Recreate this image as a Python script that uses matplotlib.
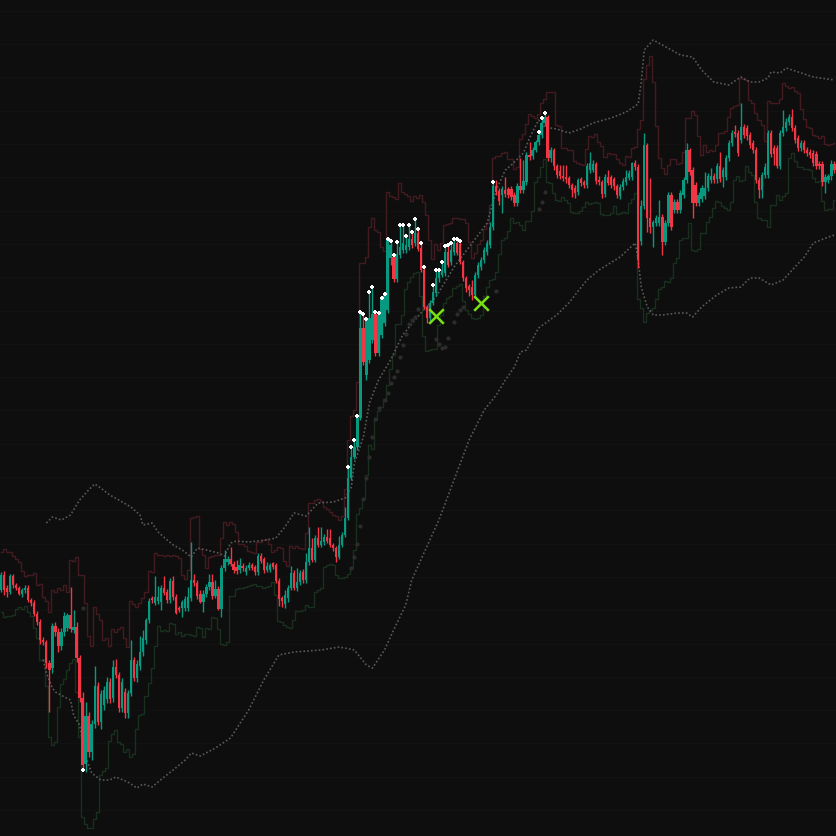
import numpy as np
import pandas as pd
import matplotlib
matplotlib.use('Agg')
import matplotlib.pyplot as plt

# OHLC candles (arbitrary price units)
opens = [
    246, 261, 248, 244, 260, 251, 248, 242, 246, 248,
    236, 233, 222, 214, 196, 194, 173, 168, 210, 204,
    190, 204, 208, 221, 206, 209, 178, 138, 72, 120,
    84, 112, 150, 114, 131, 137, 154, 138, 169, 161,
    128, 144, 123, 143, 176, 158, 170, 184, 196, 216,
    238, 233, 235, 234, 248, 244, 236, 255, 239, 228,
    228, 228, 228, 238, 256, 253, 242, 234, 242, 249,
    254, 240, 247, 227, 268, 274, 277, 272, 269, 266,
    270, 264, 268, 271, 269, 264, 280, 277, 266, 266,
    273, 271, 255, 238, 232, 238, 248, 263, 248, 254,
    264, 256, 274, 288, 276, 298, 291, 294, 299, 298,
    291, 288, 279, 291, 301, 318, 358, 379, 389, 418,
    508, 461, 476, 496, 522, 483, 501, 513, 526, 578,
    579, 557, 581, 586, 586, 589, 597, 593, 603, 588,
    566, 529, 518, 533, 543, 558, 561, 563, 584, 574,
    584, 593, 592, 574, 558, 550, 549, 541, 561, 569,
    576, 584, 591, 609, 650, 645, 641, 646, 647, 647,
    641, 633, 650, 646, 654, 681, 680, 686, 694, 701,
    713, 719, 678, 686, 670, 665, 660, 659, 658, 651,
    648, 644, 657, 654, 651, 666, 666, 672, 656, 654,
    642, 659, 659, 657, 650, 640, 649, 654, 658, 659,
    673, 669, 595, 630, 691, 618, 609, 613, 613, 619,
    594, 613, 641, 626, 634, 626, 641, 656, 686, 666,
    651, 633, 637, 640, 648, 656, 660, 657, 670, 659,
    659, 678, 693, 704, 703, 696, 709, 708, 701, 693,
    686, 656, 646, 661, 661, 703, 688, 688, 670, 703,
    708, 714, 719, 708, 698, 688, 693, 686, 684, 683,
    682, 672, 672, 654, 656, 660, 672,
]
highs = [
    264, 265, 251, 262, 262, 253, 250, 248, 251, 251,
    238, 236, 225, 217, 199, 196, 176, 213, 214, 208,
    208, 224, 223, 249, 226, 214, 181, 144, 134, 124,
    116, 170, 154, 146, 150, 159, 158, 176, 177, 164,
    158, 148, 146, 196, 179, 176, 200, 206, 218, 238,
    240, 260, 250, 251, 260, 247, 258, 260, 242, 230,
    236, 240, 249, 294, 262, 256, 246, 246, 252, 262,
    262, 256, 250, 271, 286, 280, 289, 275, 276, 278,
    273, 271, 274, 273, 271, 283, 283, 279, 274, 273,
    274, 273, 258, 240, 246, 251, 270, 266, 268, 266,
    267, 283, 309, 298, 301, 309, 309, 302, 307, 307,
    293, 290, 300, 304, 329, 369, 389, 396, 420, 524,
    522, 517, 544, 549, 524, 523, 538, 542, 597, 595,
    581, 594, 611, 611, 600, 611, 604, 617, 607, 593,
    569, 531, 536, 551, 566, 566, 574, 590, 591, 593,
    597, 597, 595, 576, 560, 552, 556, 564, 574, 579,
    589, 596, 614, 654, 656, 648, 650, 659, 649, 650,
    644, 653, 678, 676, 684, 694, 689, 696, 704, 718,
    723, 721, 689, 688, 672, 671, 671, 671, 660, 653,
    651, 658, 659, 656, 673, 684, 676, 674, 660, 656,
    662, 666, 661, 659, 652, 652, 658, 666, 666, 674,
    676, 672, 636, 703, 693, 658, 616, 621, 636, 622,
    616, 644, 644, 637, 637, 646, 659, 693, 688, 669,
    654, 644, 651, 664, 663, 668, 663, 673, 684, 669,
    681, 696, 706, 711, 706, 733, 712, 711, 704, 696,
    689, 659, 664, 673, 706, 706, 691, 691, 706, 726,
    718, 722, 727, 711, 701, 696, 696, 689, 687, 686,
    685, 675, 675, 662, 662, 676, 675,
]
lows = [
    244, 241, 239, 242, 248, 246, 241, 239, 243, 234,
    230, 220, 211, 192, 191, 168, 124, 163, 200, 184,
    186, 200, 205, 204, 203, 174, 134, 66, 64, 79,
    76, 108, 111, 107, 126, 133, 133, 134, 158, 124,
    124, 118, 118, 140, 155, 154, 166, 180, 192, 213,
    233, 231, 232, 226, 241, 233, 233, 236, 222, 224,
    219, 225, 225, 235, 250, 237, 233, 224, 239, 246,
    237, 238, 226, 219, 265, 271, 270, 263, 262, 263,
    265, 261, 266, 266, 261, 261, 273, 263, 264, 264,
    267, 253, 230, 229, 228, 234, 246, 246, 245, 251,
    253, 253, 271, 274, 274, 289, 289, 291, 293, 289,
    285, 274, 277, 289, 299, 316, 356, 377, 386, 416,
    471, 456, 473, 493, 480, 480, 498, 510, 523, 571,
    554, 554, 578, 583, 583, 586, 588, 590, 585, 564,
    527, 513, 513, 531, 540, 554, 559, 560, 569, 571,
    581, 581, 572, 555, 544, 540, 536, 538, 558, 566,
    573, 581, 588, 606, 641, 631, 623, 639, 638, 636,
    630, 630, 643, 643, 651, 676, 677, 684, 691, 698,
    710, 675, 674, 666, 658, 657, 655, 653, 648, 639,
    638, 641, 650, 648, 648, 663, 664, 652, 651, 638,
    639, 651, 648, 646, 638, 637, 646, 651, 656, 656,
    666, 568, 591, 627, 604, 603, 589, 610, 610, 581,
    591, 610, 606, 623, 623, 623, 638, 653, 661, 618,
    630, 630, 634, 637, 645, 653, 653, 653, 654, 649,
    656, 675, 690, 699, 680, 693, 698, 696, 688, 683,
    653, 638, 638, 658, 658, 679, 671, 668, 667, 700,
    705, 711, 705, 693, 685, 685, 683, 680, 678, 670,
    667, 667, 650, 643, 653, 656, 663,
]
closes = [
    261, 246, 244, 260, 251, 248, 242, 246, 248, 236,
    233, 222, 214, 196, 194, 173, 166, 210, 204, 190,
    204, 220, 221, 207, 209, 178, 138, 71, 120, 84,
    112, 150, 114, 142, 146, 154, 137, 169, 161, 128,
    154, 123, 143, 176, 158, 172, 184, 198, 216, 235,
    236, 239, 239, 248, 243, 236, 255, 239, 223, 226,
    234, 237, 239, 256, 253, 240, 234, 242, 249, 254,
    240, 247, 227, 268, 277, 277, 272, 266, 265, 271,
    268, 268, 271, 268, 264, 280, 275, 266, 270, 271,
    269, 255, 237, 235, 241, 248, 263, 248, 254, 263,
    256, 274, 288, 276, 298, 291, 295, 299, 295, 291,
    288, 279, 291, 301, 318, 358, 379, 389, 418, 508,
    474, 516, 518, 522, 483, 521, 538, 541, 596, 591,
    557, 582, 589, 593, 591, 597, 591, 603, 587, 566,
    529, 518, 533, 544, 558, 564, 566, 584, 571, 586,
    593, 583, 574, 558, 548, 546, 541, 561, 571, 576,
    586, 593, 609, 650, 644, 635, 647, 642, 641, 639,
    633, 650, 646, 655, 681, 679, 686, 694, 701, 713,
    719, 678, 686, 670, 661, 660, 658, 657, 651, 646,
    643, 656, 653, 651, 670, 673, 672, 655, 654, 642,
    659, 653, 651, 650, 641, 649, 655, 659, 663, 673,
    669, 576, 630, 691, 618, 609, 614, 618, 619, 594,
    613, 641, 609, 634, 626, 643, 656, 686, 664, 633,
    633, 641, 648, 648, 660, 660, 656, 670, 657, 666,
    678, 693, 703, 702, 683, 709, 701, 700, 691, 686,
    656, 646, 661, 669, 703, 682, 682, 670, 703, 709,
    714, 719, 708, 696, 688, 693, 686, 683, 681, 673,
    670, 670, 654, 659, 660, 672, 666,
]

# outer dotted envelope, (bar, price) points
upper_band_bars = [15, 17, 20, 23, 26, 29, 31, 33, 36, 39, 43, 46, 47, 50, 52,
                   55, 57, 60, 63, 65, 68, 72, 74, 76, 78, 82, 88, 91, 94, 97,
                   101, 105, 110, 114, 116, 117, 120, 122, 125, 129, 133, 139,
                   144, 150, 155, 161, 164, 167, 169, 173, 175, 178, 180, 184,
                   188, 192, 196, 202, 207, 211, 212, 213, 216, 219, 225, 229,
                   232, 236, 241, 245, 248, 251, 254, 255, 258, 260, 265, 269, 276]
upper_band = [313, 319, 316, 321, 336, 346, 352, 348, 341, 336, 329, 321, 311, 313, 304,
              296, 291, 286, 279, 288, 286, 283, 280, 293, 295, 294, 296, 298, 309, 323,
              320, 333, 334, 338, 349, 373, 399, 433, 456, 476, 501, 523,
              539, 569, 589, 613, 646, 666, 671, 683, 698, 716, 709, 707,
              703, 707, 713, 718, 724, 732, 754, 786, 796, 791, 781, 779,
              766, 754, 751, 759, 754, 754, 758, 764, 763, 768, 763, 759, 756]
lower_band_bars = [14, 15, 17, 18, 21, 23, 24, 26, 27, 28, 30, 33, 36, 38, 42, 45, 47,
                   50, 54, 57, 61, 63, 66, 71, 76, 82, 87, 92, 97, 106, 112, 117,
                   121, 123, 127, 130, 134, 136, 142, 145, 150, 155, 160, 164, 167,
                   170, 172, 174, 178, 184, 188, 194, 198, 205, 210, 211, 212, 214,
                   216, 219, 224, 227, 229, 232, 237, 241, 245, 248, 251, 255, 259,
                   262, 266, 269, 274, 276]
lower_band = [176, 163, 148, 144, 139, 136, 121, 111, 94, 79, 63, 56, 56, 59, 54, 48, 52,
              49, 59, 66, 76, 83, 80, 88, 98, 126, 156, 181, 184, 186, 189, 186,
              171, 168, 186, 206, 231, 256, 296, 316, 356, 396, 426, 441, 456,
              469, 484, 486, 508, 521, 533, 556, 566, 579, 593, 576, 549, 529,
              521, 521, 523, 523, 519, 529, 541, 548, 549, 558, 558, 551, 556,
              566, 579, 593, 599, 601]

# faint grey dots
dot_bars = [27, 116, 117, 118, 119, 120, 121, 122, 123, 124, 125, 127, 128, 129, 130,
            131, 132, 133, 134, 135, 136, 137, 138, 140, 141, 144, 145, 146, 147, 148,
            150, 151, 152, 153, 164, 178, 179, 180]
dot_prices = [228, 268, 279, 292, 310, 337, 358, 379, 399, 417, 428, 436, 443, 453, 459,
              465, 479, 491, 502, 512, 516, 519, 527, 528, 529, 497, 492, 488, 489, 498,
              514, 522, 526, 529, 545, 627, 634, 644]

# white marks on candles breaking the envelope
high_mark_bars = [115, 116, 117, 118, 119, 120, 121, 122, 123, 124, 125, 126, 127, 128,
                  129, 130, 131, 132, 133, 134, 135, 136, 137, 138, 139, 140, 143, 144,
                  145, 146, 147, 148, 149, 150, 151, 152, 163, 178, 179, 180]
low_mark_bars = [27]

# green cross signals
cross_bars = [144, 159]
cross_prices = [520, 533]

BG = '#0e0e0e'
UP = '#089981'
DOWN = '#f23645'

df = pd.DataFrame({'open': opens, 'high': highs, 'low': lows, 'close': closes})
idx = np.arange(len(df))

# short-term channel around price
prev_close = df['close'].shift()
tr = pd.concat([df['high'] - df['low'],
                (df['high'] - prev_close).abs(),
                (df['low'] - prev_close).abs()], axis=1).max(axis=1)
atr = tr.rolling(5, min_periods=1).mean()
chan_up = df['high'].rolling(3, min_periods=1).max() + atr
chan_dn = df['low'].rolling(3, min_periods=1).min() - atr

fig = plt.figure(figsize=(8.36, 8.36), dpi=100, facecolor=BG)
ax = fig.add_axes([0, 0, 1, 1], facecolor=BG)

ax.plot(idx, chan_up, drawstyle='steps-mid', color='#421a20', lw=1.0, zorder=1)
ax.plot(idx, chan_dn, drawstyle='steps-mid', color='#1a301f', lw=1.0, zorder=1)

ax.plot(upper_band_bars, upper_band, color='#595959', lw=1.2,
        linestyle=(0, (1, 1.3)), zorder=1)
ax.plot(lower_band_bars, lower_band, color='#595959', lw=1.2,
        linestyle=(0, (1, 1.3)), zorder=1)

ax.scatter(dot_bars, dot_prices, s=9, color='#2c2c2c', lw=0, zorder=1.5)

colors = np.where(df['close'] >= df['open'], UP, DOWN)
body_lo = np.minimum(df['open'], df['close'])
body_h = np.maximum(np.abs(df['close'] - df['open']), 1.5)
ax.vlines(idx, df['low'], df['high'], colors=colors, lw=1.0, zorder=2)
ax.bar(idx, body_h, bottom=body_lo, width=0.76, color=colors, lw=0, zorder=3)

ax.scatter(high_mark_bars, df['high'].iloc[high_mark_bars], marker='P', s=8,
           color='white', lw=0, zorder=5)
ax.scatter(low_mark_bars, df['low'].iloc[low_mark_bars], marker='P', s=8,
           color='white', lw=0, zorder=5)

ax.scatter(cross_bars, cross_prices, marker='x', s=110, color='#79e012',
           linewidths=1.8, zorder=6)

ax.set_xlim(-0.35, 276.5)
ax.set_ylim(0, 836)
ax.set_yticks(np.arange(26, 836, 33.3))
ax.grid(axis='y', color='#121212', lw=1.0)
ax.set_axisbelow(True)
ax.tick_params(length=0, labelleft=False, labelbottom=False)
for s in ax.spines.values():
    s.set_visible(False)

fig.savefig('out.png', dpi=100, facecolor=BG)
